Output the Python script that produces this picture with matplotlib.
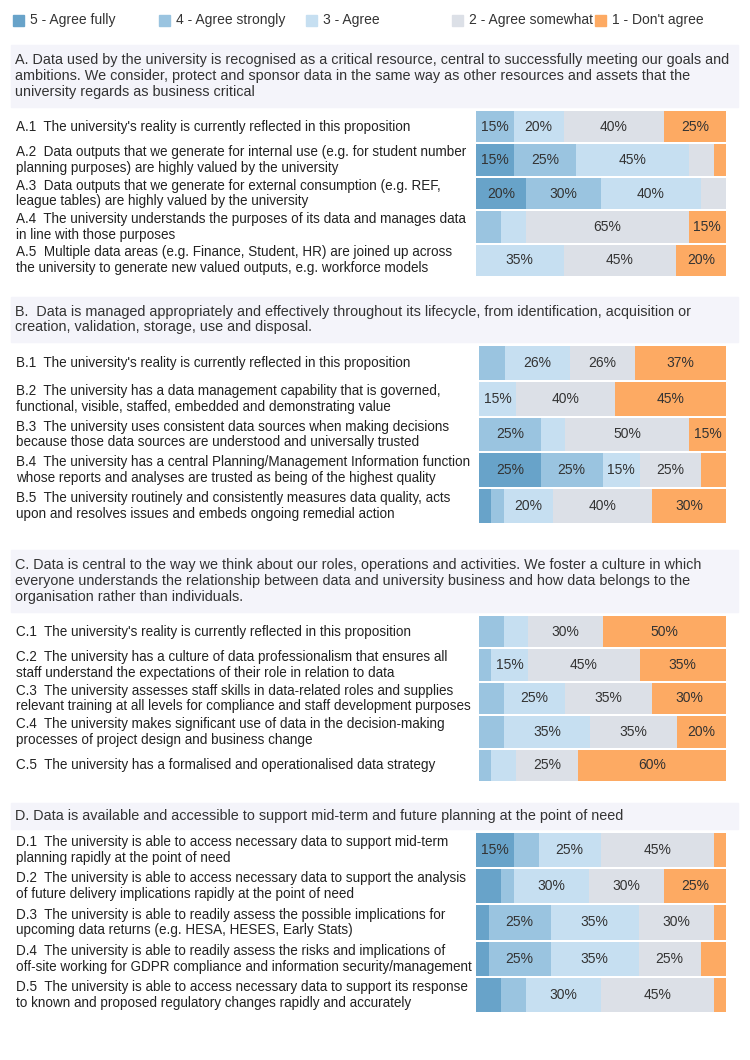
import numpy as np
import matplotlib
matplotlib.use("Agg")
import matplotlib.pyplot as plt
from matplotlib.patches import Rectangle
from matplotlib.transforms import blended_transform_factory

plt.rcParams['font.family'] = ['Liberation Sans', 'DejaVu Sans']

# answer levels, left to right in each bar
levels = ["5 - Agree fully", "4 - Agree strongly", "3 - Agree", "2 - Agree somewhat", "1 - Don't agree"]
colors = ["#68a3c9", "#9ac4e0", "#c6dff1", "#dce0e7", "#fdaa63"]

# percentages per row, in the order of levels
a_scores = [[0, 15, 20, 40, 25],
            [15, 25, 45, 10, 5],
            [20, 30, 40, 10, 0],
            [0, 10, 10, 65, 15],
            [0, 0, 35, 45, 20]]
b_scores = [[0, 10.5, 26.3, 26.3, 36.8],
            [0, 0, 15, 40, 45],
            [0, 25, 10, 50, 15],
            [25, 25, 15, 25, 10],
            [5, 5, 20, 40, 30]]
c_scores = [[0, 10, 10, 30, 50],
            [0, 5, 15, 45, 35],
            [0, 10, 25, 35, 30],
            [0, 10, 35, 35, 20],
            [0, 5, 10, 25, 60]]
d_scores = [[15, 10, 25, 45, 5],
            [10, 5, 30, 30, 25],
            [5, 25, 35, 30, 5],
            [5, 25, 35, 25, 10],
            [10, 10, 30, 45, 5]]

a_title = ("A. Data used by the university is recognised as a critical resource, central to successfully meeting our goals and\n"
           "ambitions. We consider, protect and sponsor data in the same way as other resources and assets that the\n"
           "university regards as business critical")
b_title = ("B.  Data is managed appropriately and effectively throughout its lifecycle, from identification, acquisition or\n"
           "creation, validation, storage, use and disposal.")
c_title = ("C. Data is central to the way we think about our roles, operations and activities. We foster a culture in which\n"
           "everyone understands the relationship between data and university business and how data belongs to the\n"
           "organisation rather than individuals.")
d_title = "D. Data is available and accessible to support mid-term and future planning at the point of need"

a_labels = ["A.1  The university's reality is currently reflected in this proposition",
            "A.2  Data outputs that we generate for internal use (e.g. for student number\nplanning purposes) are highly valued by the university",
            "A.3  Data outputs that we generate for external consumption (e.g. REF,\nleague tables) are highly valued by the university",
            "A.4  The university understands the purposes of its data and manages data\nin line with those purposes",
            "A.5  Multiple data areas (e.g. Finance, Student, HR) are joined up across\nthe university to generate new valued outputs, e.g. workforce models"]
b_labels = ["B.1  The university's reality is currently reflected in this proposition",
            "B.2  The university has a data management capability that is governed,\nfunctional, visible, staffed, embedded and demonstrating value",
            "B.3  The university uses consistent data sources when making decisions\nbecause those data sources are understood and universally trusted",
            "B.4  The university has a central Planning/Management Information function\nwhose reports and analyses are trusted as being of the highest quality",
            "B.5  The university routinely and consistently measures data quality, acts\nupon and resolves issues and embeds ongoing remedial action"]
c_labels = ["C.1  The university's reality is currently reflected in this proposition",
            "C.2  The university has a culture of data professionalism that ensures all\nstaff understand the expectations of their role in relation to data",
            "C.3  The university assesses staff skills in data-related roles and supplies\nrelevant training at all levels for compliance and staff development purposes",
            "C.4  The university makes significant use of data in the decision-making\nprocesses of project design and business change",
            "C.5  The university has a formalised and operationalised data strategy"]
d_labels = ["D.1  The university is able to access necessary data to support mid-term\nplanning rapidly at the point of need",
            "D.2  The university is able to access necessary data to support the analysis\nof future delivery implications rapidly at the point of need",
            "D.3  The university is able to readily assess the possible implications for\nupcoming data returns (e.g. HESA, HESES, Early Stats)",
            "D.4  The university is able to readily assess the risks and implications of\noff-site working for GDPR compliance and information security/management",
            "D.5  The university is able to access necessary data to support its response\nto known and proposed regulatory changes rapidly and accurately"]

W, H = 750, 1060
fig = plt.figure(figsize=(W / 100, H / 100), dpi=100)


def fx(x):
    return x / W


def fy(y):
    return 1 - y / H


# legend along the top
legend_x = [13, 159, 306, 452, 595]
for x, name, col in zip(legend_x, levels, colors):
    fig.patches.append(Rectangle((fx(x), fy(26)), fx(11), 11 / H, color=col,
                                 transform=fig.transFigure))
    fig.text(fx(x + 17), fy(20), name, fontsize=10, color="#333333", va="center")

# header band and bar block of every section: (band top, band bottom, bars top, bars bottom, bars left)
sections = [
    (a_title, a_labels, a_scores, 45, 107, 110, 277, 476),
    (b_title, b_labels, b_scores, 297, 342, 345, 524, 479),
    (c_title, c_labels, c_scores, 550, 612, 615, 782, 479),
    (d_title, d_labels, d_scores, 803, 829, 832, 1013, 476),
]

for title, labels, scores, b_top, b_bot, top, bot, left in sections:
    fig.patches.append(Rectangle((fx(11), fy(b_bot)), fx(727), (b_bot - b_top) / H,
                                 color="#f4f4fa", transform=fig.transFigure))
    fig.text(fx(15), fy((b_top + b_bot) / 2), title, fontsize=10.4, color="#333333",
             va="center", linespacing=1.18)

    ax = fig.add_axes([fx(left), fy(bot), fx(726 - left), (bot - top) / H])
    vals = np.array(scores, dtype=float)
    n = len(labels)
    ypos = np.arange(n)
    lefts = np.zeros(n)
    for k in range(len(levels)):
        ax.barh(ypos, vals[:, k], left=lefts, height=0.94, color=colors[k], linewidth=0)
        for i in range(n):
            v = vals[i, k]
            if v >= 12:
                ax.text(lefts[i] + v / 2, ypos[i], f"{round(v)}%", ha="center", va="center",
                        fontsize=10, color="#333333")
        lefts += vals[:, k]
    ax.set_xlim(0, 100)
    ax.set_ylim(n - 0.5, -0.5)
    ax.axis("off")

    trans = blended_transform_factory(fig.transFigure, ax.transData)
    for i, lab in enumerate(labels):
        ax.text(fx(16), ypos[i], lab, transform=trans, fontsize=9.75, color="#222222",
                va="center", linespacing=1.18)

fig.savefig("out.png", dpi=100, facecolor="white")
